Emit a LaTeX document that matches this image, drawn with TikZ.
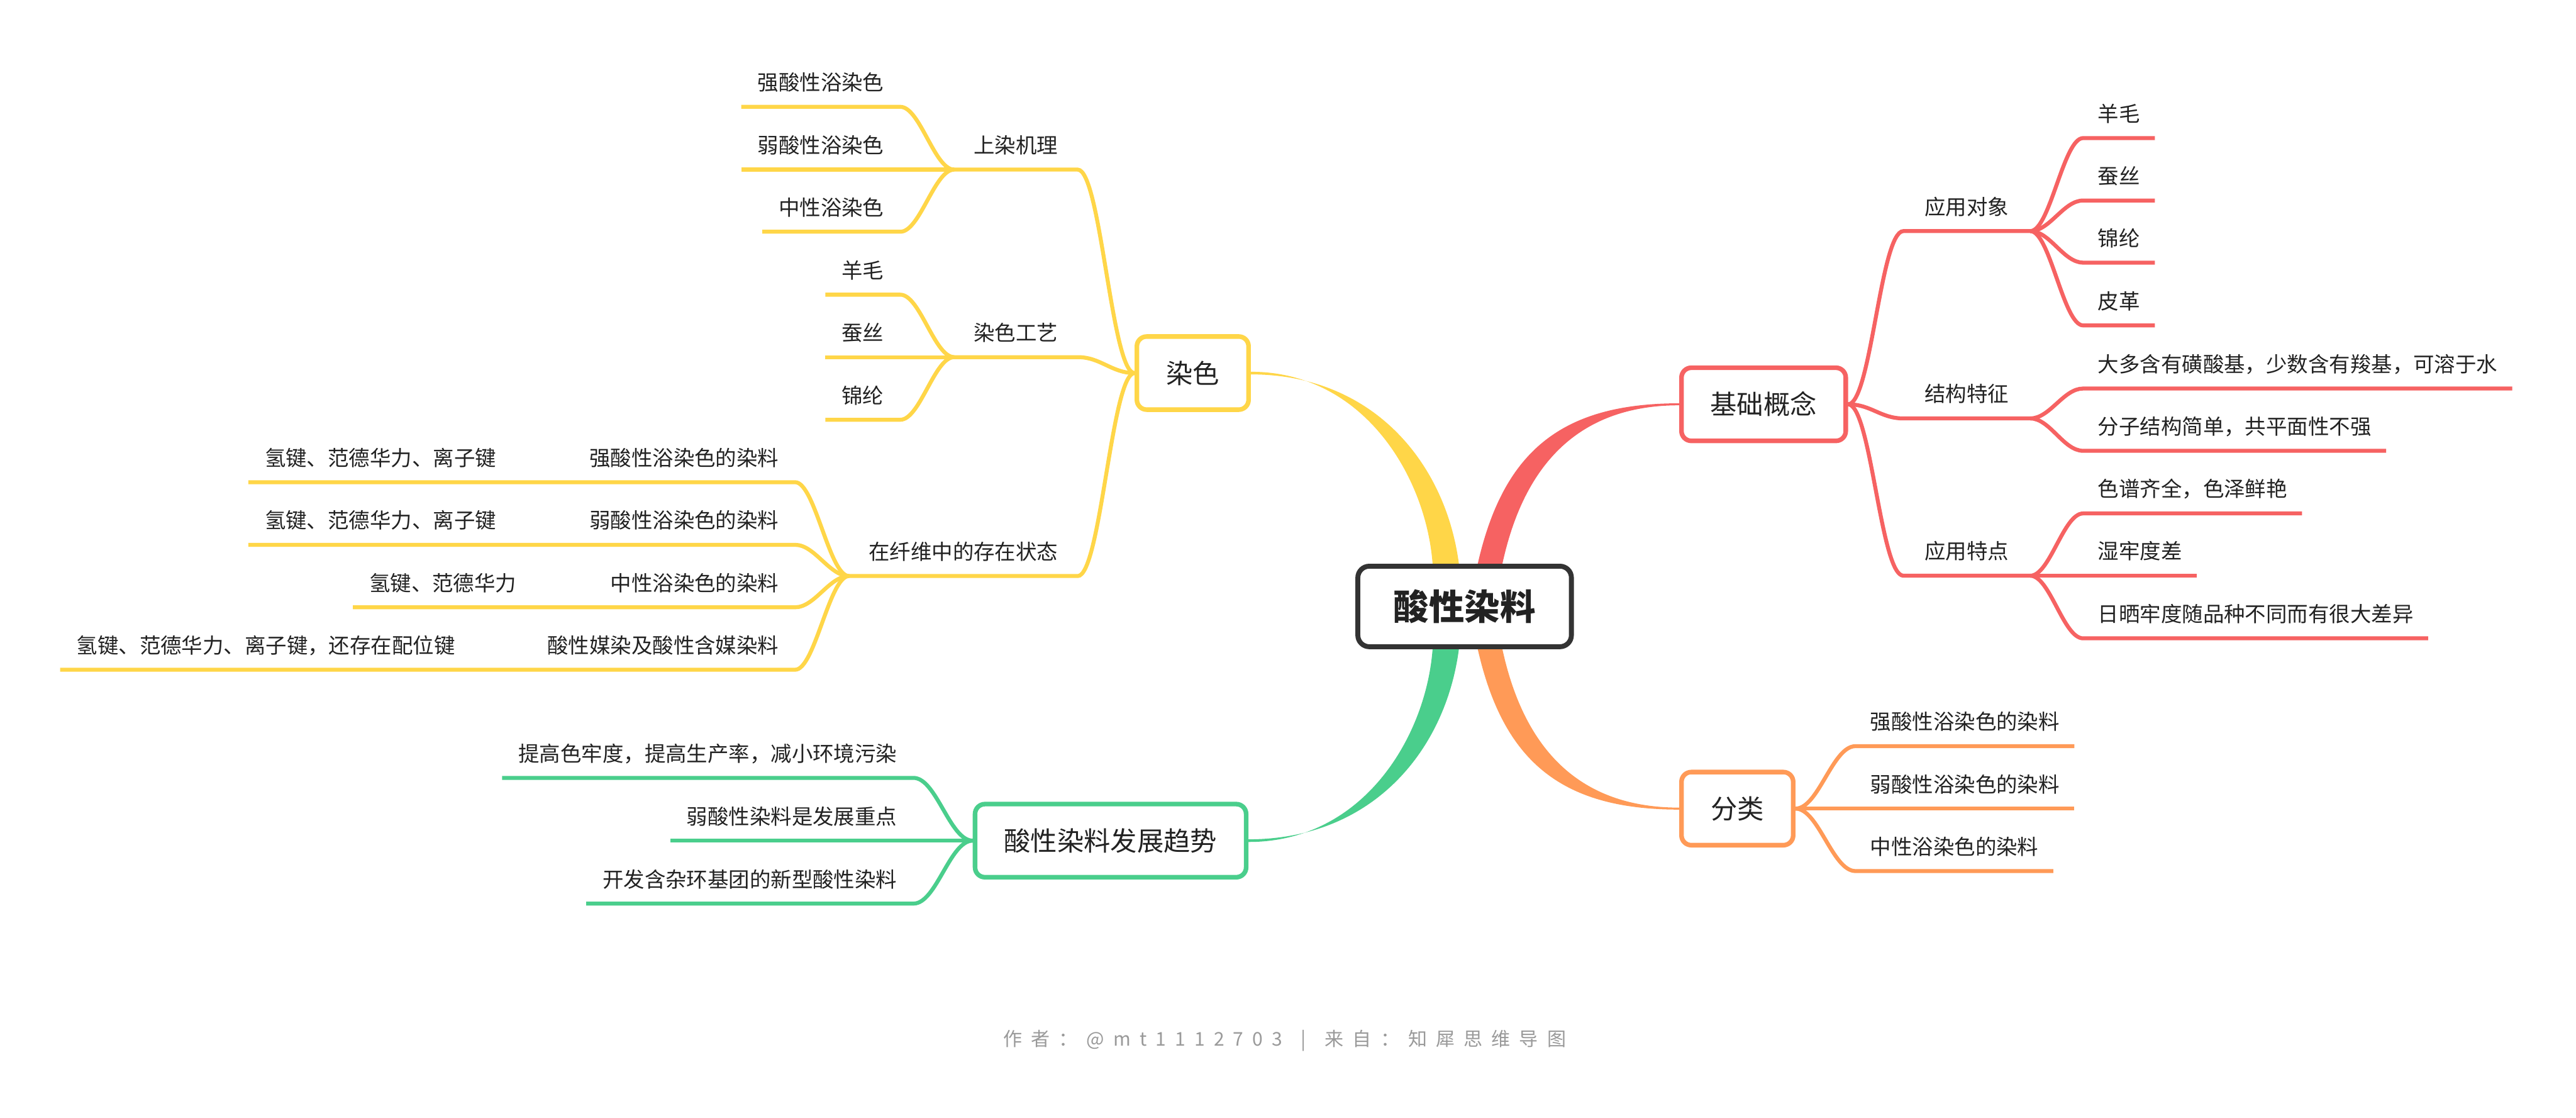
\documentclass[tikz,border=0pt]{standalone}
\usepackage{fontspec}
\setmainfont{Noto Sans CJK SC}
\usepackage{tikz}
\usetikzlibrary{backgrounds}

\definecolor{rootline}{HTML}{333333}
\definecolor{txt}{HTML}{222222}
\definecolor{redb}{HTML}{F66262}
\definecolor{orgb}{HTML}{FF9A57}
\definecolor{ylwb}{HTML}{FFD648}
\definecolor{grnb}{HTML}{4ACE8C}
\definecolor{footgray}{HTML}{9A9A9A}

\begin{document}
\begin{tikzpicture}[
  x=1pt, y=-1pt,
  root/.style={draw=rootline, fill=white, line width=3pt, rounded corners=7pt,
               minimum width=130pt, minimum height=49pt, text=txt,
               font=\fontsize{21.6}{26}\selectfont\bfseries},
  topic/.style={draw=#1, fill=white, line width=2.8pt, rounded corners=6pt,
                minimum height=44.5pt, text=txt, font=\fontsize{16.2}{20}\selectfont},
  lbl/.style={inner ysep=0pt, outer sep=0pt, text depth=10pt, text=txt,
              font=\fontsize{12.8}{15}\selectfont},
  rsub/.style={lbl, anchor=south west, inner xsep=13pt},
  lsub/.style={lbl, anchor=south east, inner xsep=12pt},
  rleaf/.style={lbl, anchor=south west, inner xsep=9pt},
  lleaf/.style={lbl, anchor=south east, inner xsep=10pt},
  br/.style={draw=#1, line width=2.4pt},
  foot/.style={text=footgray, font=\fontsize{11.5}{14}\selectfont}
]
\useasboundingbox (0,0) rectangle (1568,680);

% ===== Central topic =====
\node[root] (root) at (891.5,369) {酸性染料};

% ===== Main topics =====
\node[topic=redb, minimum width=100pt] (basic)  at (1073.5,246) {基础概念};
\node[topic=orgb, minimum width=68pt]  (fenlei) at (1057.5,492) {分类};
\node[topic=ylwb, minimum width=68pt]  (ranse)  at (726,227)    {染色};
\node[topic=grnb, minimum width=165pt] (qushi)  at (676,511.5)  {酸性染料发展趋势};

% ===== Tapered main branches =====
\begin{pgfonlayer}{background}
\fill[white] (0,0) rectangle (1568,680);
\fill[redb] ([xshift=8pt]root.north) .. controls (915,275) and (950,245.4) .. ([yshift=.6pt]basic.west)
  -- ([yshift=-.6pt]basic.west) .. controls (955,246.6) and (926,290) .. ([xshift=23pt]root.north) -- cycle;
\fill[orgb] ([xshift=8pt]root.south) .. controls (915,463) and (950,492.6) .. ([yshift=-.6pt]fenlei.west)
  -- ([yshift=.6pt]fenlei.west) .. controls (955,491.4) and (926,448) .. ([xshift=23pt]root.south) -- cycle;
\fill[ylwb] ([xshift=-19.5pt]root.north) .. controls (868,290) and (830,226.2) .. ([yshift=.8pt]ranse.east)
  -- ([yshift=-.8pt]ranse.east) .. controls (836,227.8) and (880,282) .. ([xshift=-3.5pt]root.north) -- cycle;
\fill[grnb] ([xshift=-19.5pt]root.south) .. controls (868,448) and (830,512.3) .. ([yshift=-.8pt]qushi.east)
  -- ([yshift=.8pt]qushi.east) .. controls (836,510.7) and (880,456) .. ([xshift=-3.5pt]root.south) -- cycle;
\end{pgfonlayer}

% ===== 基础概念 =====
\node[rsub] (yydx) at (1158.6,140.6) {应用对象};
\node[rsub] (jgtz) at (1158.6,254.6) {结构特征};
\node[rsub] (yytd) at (1158.6,350.3) {应用特点};
\draw[br=redb] (basic.east) .. controls +(14,0) and +(-14,0) .. (yydx.south west) -- (yydx.south east);
\draw[br=redb] (basic.east) .. controls +(14,0) and +(-14,0) .. (jgtz.south west) -- (jgtz.south east);
\draw[br=redb] (basic.east) .. controls +(14,0) and +(-14,0) .. (yytd.south west) -- (yytd.south east);

\node[rleaf] (yangmao) at (1268,84)    {羊毛};
\node[rleaf] (cansi)   at (1268,122)   {蚕丝};
\node[rleaf] (jinlun)  at (1268,159.8) {锦纶};
\node[rleaf] (pige)    at (1268,198)   {皮革};
\draw[br=redb] (yydx.south east) .. controls +(12,0) and +(-12,0) .. (yangmao.south west) -- (yangmao.south east);
\draw[br=redb] (yydx.south east) .. controls +(12,0) and +(-12,0) .. (cansi.south west) -- (cansi.south east);
\draw[br=redb] (yydx.south east) .. controls +(12,0) and +(-12,0) .. (jinlun.south west) -- (jinlun.south east);
\draw[br=redb] (yydx.south east) .. controls +(12,0) and +(-12,0) .. (pige.south west) -- (pige.south east);

\node[rleaf] (jg1) at (1268,236.4) {大多含有磺酸基，少数含有羧基，可溶于水};
\node[rleaf] (jg2) at (1268,274.3) {分子结构简单，共平面性不强};
\draw[br=redb] (jgtz.south east) .. controls +(12,0) and +(-12,0) .. (jg1.south west) -- (jg1.south east);
\draw[br=redb] (jgtz.south east) .. controls +(12,0) and +(-12,0) .. (jg2.south west) -- (jg2.south east);

\node[rleaf] (td1) at (1268,312.4) {色谱齐全，色泽鲜艳};
\node[rleaf] (td2) at (1268,350.3) {湿牢度差};
\node[rleaf] (td3) at (1268,388.4) {日晒牢度随品种不同而有很大差异};
\draw[br=redb] (yytd.south east) .. controls +(12,0) and +(-12,0) .. (td1.south west) -- (td1.south east);
\draw[br=redb] (yytd.south east) -- (td2.south west) -- (td2.south east);
\draw[br=redb] (yytd.south east) .. controls +(12,0) and +(-12,0) .. (td3.south west) -- (td3.south east);

% ===== 分类 =====
\node[rleaf] (fl1) at (1129.4,454) {强酸性浴染色的染料};
\node[rleaf] (fl2) at (1129.4,492) {弱酸性浴染色的染料};
\node[rleaf] (fl3) at (1129.4,530) {中性浴染色的染料};
\draw[br=orgb] (fenlei.east) .. controls +(14,0) and +(-14,0) .. (fl1.south west) -- (fl1.south east);
\draw[br=orgb] (fenlei.east) -- (fl2.south west) -- (fl2.south east);
\draw[br=orgb] (fenlei.east) .. controls +(14,0) and +(-14,0) .. (fl3.south west) -- (fl3.south east);

% ===== 染色 =====
\node[lsub] (szjl) at (656,103.2) {上染机理};
\node[lsub] (rsgy) at (656,217.3) {染色工艺};
\node[lsub] (zxwz) at (656,350.5) {在纤维中的存在状态};
\draw[br=ylwb] (ranse.west) .. controls +(-14,0) and +(14,0) .. (szjl.south east) -- (szjl.south west);
\draw[br=ylwb] (ranse.west) .. controls +(-14,0) and +(14,0) .. (rsgy.south east) -- (rsgy.south west);
\draw[br=ylwb] (ranse.west) .. controls +(-14,0) and +(14,0) .. (zxwz.south east) -- (zxwz.south west);

\node[lleaf] (sz1) at (548,65)    {强酸性浴染色};
\node[lleaf] (sz2) at (548,103.2) {弱酸性浴染色};
\node[lleaf] (sz3) at (548,141)   {中性浴染色};
\draw[br=ylwb] (szjl.south west) .. controls +(-12,0) and +(12,0) .. (sz1.south east) -- (sz1.south west);
\draw[br=ylwb] (szjl.south west) -- (sz2.south east) -- (sz2.south west);
\draw[br=ylwb] (szjl.south west) .. controls +(-12,0) and +(12,0) .. (sz3.south east) -- (sz3.south west);

\node[lleaf] (gy1) at (548,179.3) {羊毛};
\node[lleaf] (gy2) at (548,217.3) {蚕丝};
\node[lleaf] (gy3) at (548,255.4) {锦纶};
\draw[br=ylwb] (rsgy.south west) .. controls +(-12,0) and +(12,0) .. (gy1.south east) -- (gy1.south west);
\draw[br=ylwb] (rsgy.south west) -- (gy2.south east) -- (gy2.south west);
\draw[br=ylwb] (rsgy.south west) .. controls +(-12,0) and +(12,0) .. (gy3.south east) -- (gy3.south west);

\node[lleaf] (zx1) at (484,293.4) {强酸性浴染色的染料};
\node[lleaf] (zx2) at (484,331.5) {弱酸性浴染色的染料};
\node[lleaf] (zx3) at (484,369.5) {中性浴染色的染料};
\node[lleaf] (zx4) at (484,407.5) {酸性媒染及酸性含媒染料};
\node[lleaf] (jj1) at (312,293.4) {氢键、范德华力、离子键};
\node[lleaf] (jj2) at (312,331.5) {氢键、范德华力、离子键};
\node[lleaf] (jj3) at (324.4,369.5) {氢键、范德华力};
\node[lleaf] (jj4) at (287,407.5) {氢键、范德华力、离子键，还存在配位键};
\draw[br=ylwb] (zxwz.south west) .. controls +(-12,0) and +(12,0) .. (zx1.south east) -- (zx1.south west) -- (jj1.south east) -- (jj1.south west);
\draw[br=ylwb] (zxwz.south west) .. controls +(-12,0) and +(12,0) .. (zx2.south east) -- (zx2.south west) -- (jj2.south east) -- (jj2.south west);
\draw[br=ylwb] (zxwz.south west) .. controls +(-12,0) and +(12,0) .. (zx3.south east) -- (zx3.south west) -- (jj3.south east) -- (jj3.south west);
\draw[br=ylwb] (zxwz.south west) .. controls +(-12,0) and +(12,0) .. (zx4.south east) -- (zx4.south west) -- (jj4.south east) -- (jj4.south west);

% ===== 酸性染料发展趋势 =====
\node[lleaf] (qs1) at (556,473.3) {提高色牢度，提高生产率，减小环境污染};
\node[lleaf] (qs2) at (556,511.5) {弱酸性染料是发展重点};
\node[lleaf] (qs3) at (556,549.8) {开发含杂环基团的新型酸性染料};
\draw[br=grnb] (qushi.west) .. controls +(-14,0) and +(14,0) .. (qs1.south east) -- (qs1.south west);
\draw[br=grnb] (qushi.west) -- (qs2.south east) -- (qs2.south west);
\draw[br=grnb] (qushi.west) .. controls +(-14,0) and +(14,0) .. (qs3.south east) -- (qs3.south west);

% ===== Footer =====
\node[foot] (credit) at (782,633)
  {\spaceskip=5.4pt\relax 作 者 ： @ m t 1 1 1 2 7 0 3 \hspace{6pt}|\hspace{6pt} 来 自 ： 知 犀 思 维 导 图};

\end{tikzpicture}
\end{document}
